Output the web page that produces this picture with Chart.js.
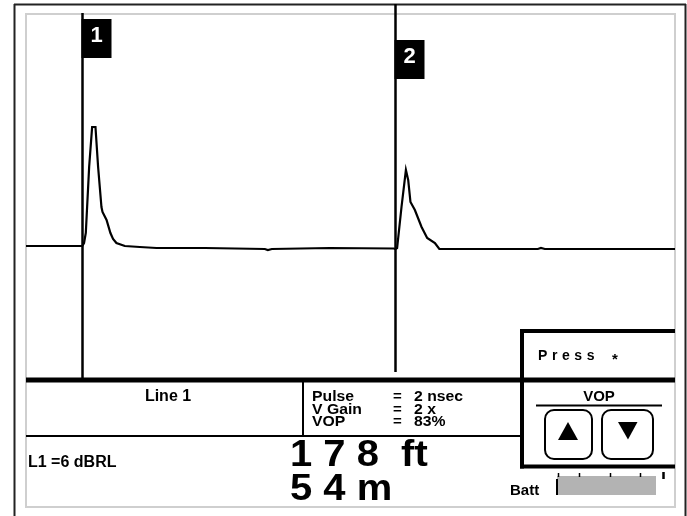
<!DOCTYPE html>
<html>
<head>
<meta charset="utf-8">
<title>TDR trace</title>
<script src="https://cdn.jsdelivr.net/npm/chart.js@4.4.1/dist/chart.umd.min.js"></script>
<style>
  html, body { margin: 0; padding: 0; background: #fff; }
  #wrap { width: 687px; height: 516px; }
</style>
</head>
<body>
<div id="wrap"><canvas id="tdr" width="687" height="516"></canvas></div>
<script>
// trace: distance in ft, amplitude in display units (baseline = 0)
const distanceFt = [-32, 0, 1, 2, 3.9, 5.6, 7.5, 9.0, 10.9, 11.5, 13.8, 16.0, 17.5, 19.4, 24.2, 32.7, 42.2, 69.7, 103.8, 105.5, 107.8, 140.7, 177.1,
                    178, 179, 181.5, 184, 185.3, 186.6, 189.1, 192.9, 196.1, 200.5, 203, 210.7, 259, 260.8, 263, 337];
const amplitude  = [2, 2, 5, 15, 81, 121, 121, 81, 41, 36, 28, 15, 9, 5, 2, 1, 0, 0, -1, -2, -1, 0, -0.5,
                    -1, 0, 41, 78, 68, 46, 38, 21, 10, 5, -1, -1, -1, 0, -1, -1];

// cursors
const markerFt = [0, 178];
const markerLabels = ['1', '2'];

// x / y range shown on the screen
const xRange = [-32, 337];
const yRange = [-259, 234];

// read-out panel texts
const lineName = 'Line 1';
const settingNames = ['Pulse', 'V Gain', 'VOP'];
const settingValues = ['2 nsec', '2 x', '83%'];
const returnLoss = 'L1 =6 dBRL';
const distanceText = ['1 7 8  ft', '5 4 m'];
const promptText = 'Press';
const buttonTitle = 'VOP';
const battText = 'Batt';

const FONT = '"Liberation Sans", Arial, sans-serif';

function line(ctx, x1, y1, x2, y2, w, c) {
    ctx.beginPath();
    ctx.lineWidth = w;
    ctx.strokeStyle = c || '#000';
    ctx.moveTo(x1, y1);
    ctx.lineTo(x2, y2);
    ctx.stroke();
}

function spacedText(ctx, txt, x, y, gap) {
    // letter-spaced text, drawn glyph by glyph
    for (const ch of txt) {
        ctx.fillText(ch, x, y);
        x += ctx.measureText(ch).width + gap;
    }
}

function wideText(ctx, txt, x, y, sx) {
    // the instrument font is a bit wider than Arial
    ctx.save();
    ctx.translate(x, y);
    ctx.scale(sx, 1);
    ctx.fillText(txt, 0, 0);
    ctx.restore();
}

function roundBox(ctx, x, y, w, h, r) {
    ctx.beginPath();
    ctx.lineWidth = 2;
    ctx.strokeStyle = '#000';
    ctx.roundRect(x, y, w, h, r);
    ctx.stroke();
}

// frame + cursors, drawn under the trace
const screenPlugin = {
    id: 'screen',
    beforeDatasetsDraw(chart) {
        const ctx = chart.ctx;
        const xs = chart.scales.x;
        ctx.save();
        // outer black frame
        line(ctx, 14.5, 4, 14.5, 516, 2, '#222');
        line(ctx, 14, 4.5, 686, 4.5, 2, '#222');
        line(ctx, 685.5, 4, 685.5, 516, 2, '#222');
        // gray screen border
        ctx.lineWidth = 2;
        ctx.strokeStyle = '#cfcfcf';
        ctx.strokeRect(26, 14, 649, 493);

        // cursor lines and flags
        const tops = [13, 4];
        const bottoms = [380, 372];
        const flagTop = [19, 40];
        markerFt.forEach((ft, i) => {
            const px = Math.round(xs.getPixelForValue(ft)) + 0.5;
            line(ctx, px, tops[i], px, bottoms[i], 2.5, '#000');
            ctx.fillStyle = '#000';
            ctx.fillRect(px - 1, flagTop[i], 30, 39);
            ctx.fillStyle = '#fff';
            ctx.font = 'bold 22px ' + FONT;
            ctx.textAlign = 'center';
            ctx.textBaseline = 'middle';
            ctx.fillText(markerLabels[i], px + 14, flagTop[i] + 17);
        });
        ctx.restore();
    },
    afterDraw(chart) {
        const ctx = chart.ctx;
        ctx.save();
        // panel grid
        ctx.fillStyle = '#fff';
        ctx.fillRect(27, 382, 494, 124);
        line(ctx, 26, 380, 675, 380, 5);
        line(ctx, 26, 436, 522, 436, 2);
        line(ctx, 303, 380, 303, 436, 2);
        line(ctx, 522, 329, 522, 468.5, 4);
        line(ctx, 520, 331, 675, 331, 4);
        line(ctx, 520, 466.5, 675, 466.5, 4);

        ctx.fillStyle = '#000';
        ctx.textBaseline = 'alphabetic';

        // line name
        ctx.font = 'bold 16px ' + FONT;
        ctx.textAlign = 'center';
        ctx.fillText(lineName, 168, 401);

        // settings block, tightly packed lines
        ctx.textAlign = 'left';
        ctx.font = 'bold 15px ' + FONT;
        settingNames.forEach((n, i) => {
            const y = 401 + i * 12.7;
            wideText(ctx, n, 312, y, 1.05);
            ctx.fillText('=', 393, y);
            wideText(ctx, settingValues[i], 414, y, 1.05);
        });

        // return loss
        ctx.font = 'bold 16px ' + FONT;
        ctx.fillText(returnLoss, 28, 467);

        // distance readout
        ctx.font = 'bold 37px ' + FONT;
        wideText(ctx, distanceText[0], 290, 466, 1.08);
        wideText(ctx, distanceText[1], 290, 500, 1.08);

        // prompt
        ctx.font = 'bold 14px ' + FONT;
        spacedText(ctx, promptText, 538, 360, 4.6);
        ctx.font = 'bold 15px ' + FONT;
        ctx.fillText('*', 612, 364);

        // VOP buttons
        ctx.font = 'bold 15px ' + FONT;
        ctx.textAlign = 'center';
        ctx.fillText(buttonTitle, 599, 401);
        line(ctx, 536, 405.5, 662, 405.5, 2);
        roundBox(ctx, 545, 410, 47, 49, 9);
        roundBox(ctx, 602, 410, 51, 49, 9);
        ctx.fillStyle = '#000';
        ctx.beginPath();
        ctx.moveTo(568, 422);
        ctx.lineTo(578, 440);
        ctx.lineTo(558, 440);
        ctx.closePath();
        ctx.fill();
        ctx.beginPath();
        ctx.moveTo(618, 422);
        ctx.lineTo(637.5, 422);
        ctx.lineTo(628, 439.5);
        ctx.closePath();
        ctx.fill();

        // battery gauge
        ctx.textAlign = 'left';
        ctx.font = 'bold 15px ' + FONT;
        ctx.fillText(battText, 510, 495);
        ctx.fillStyle = '#b3b3b3';
        ctx.fillRect(557, 476, 99, 19);
        line(ctx, 557, 479, 557, 495, 2);
        [558, 579, 610, 640].forEach(x => line(ctx, x + 0.5, 473, x + 0.5, 477, 1.5));
        line(ctx, 663.5, 472, 663.5, 479, 2.5);
        ctx.restore();
    }
};

const ctx = document.getElementById('tdr').getContext('2d');
const tdrChart = new Chart(ctx, {
    type: 'line',
    data: {
        datasets: [{
            data: distanceFt.map((d, i) => ({ x: d, y: amplitude[i] })),
            borderColor: '#000',
            borderWidth: 2.2,
            pointRadius: 0,
            tension: 0,
            fill: false
        }]
    },
    options: {
        responsive: false,
        animation: false,
        events: [],
        layout: { padding: { left: 26, right: 12, top: 14, bottom: 9 } },
        scales: {
            x: { type: 'linear', min: xRange[0], max: xRange[1], display: false },
            y: { min: yRange[0], max: yRange[1], display: false }
        },
        plugins: {
            legend: { display: false },
            tooltip: { enabled: false }
        }
    },
    plugins: [screenPlugin]
});
</script>
</body>
</html>
